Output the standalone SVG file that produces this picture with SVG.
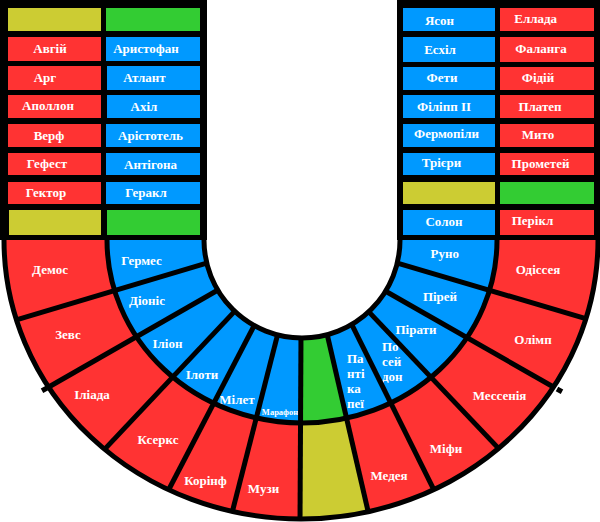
<svg xmlns="http://www.w3.org/2000/svg" width="600" height="522" viewBox="0 0 600 522">
<style>
.r{fill:#ff3333}.b{fill:#0099ff}.g{fill:#33cc33}.y{fill:#cccc33}
text{font-family:"Liberation Serif","Times New Roman",serif;font-weight:bold;font-size:13px;fill:#ffffff;text-anchor:middle}
text.s{font-size:8.5px}
text.l{text-anchor:start}
.ln{stroke:#000000;stroke-width:5;fill:none}
.oc{clip-path:url(#outerRing)}
.ic{clip-path:url(#innerRing)}
</style>
<defs>
<clipPath id="outerRing"><path clip-rule="evenodd" d="M4 240A297 279 0 0 0 598 240ZM107 240A195 183 0 0 0 497 240Z"/></clipPath>
<clipPath id="innerRing"><path clip-rule="evenodd" d="M107 240A195 183 0 0 0 497 240ZM204 240A98 98 0 0 0 400 240Z"/></clipPath>
<clipPath id="ringAll"><path clip-rule="evenodd" d="M4 240A297 279 0 0 0 598 240ZM204 240A98 98 0 0 0 400 240Z"/></clipPath>
</defs>
<rect x="0" y="0" width="600" height="522" fill="#ffffff"/>
<rect x="0" y="0" width="207" height="240" fill="#000000"/>
<rect x="397" y="0" width="203" height="240" fill="#000000"/>

<g id="left-blocks">
<g id="l-empty-y1"><rect class="y" x="8" y="8" width="93" height="23"/></g>
<g id="l-empty-g1"><rect class="g" x="106" y="8" width="94" height="23"/></g>
<g id="avhii"><rect class="r" x="8" y="37" width="93" height="24"/><text x="50" y="53">Авгій</text></g>
<g id="arystofan"><rect class="b" x="106" y="37" width="94" height="24"/><text x="146" y="53">Аристофан</text></g>
<g id="arh"><rect class="r" x="8" y="66" width="93" height="24"/><text x="45" y="82">Арг</text></g>
<g id="atlant"><rect class="b" x="107" y="66" width="93" height="24"/><text x="144.5" y="82">Атлант</text></g>
<g id="apollon"><rect class="r" x="8" y="95" width="93" height="23"/><text x="48" y="110">Аполлон</text></g>
<g id="akhil"><rect class="b" x="107" y="95" width="93" height="23"/><text x="144" y="111">Ахіл</text></g>
<g id="verf"><rect class="r" x="8" y="124" width="93" height="23"/><text x="49" y="140">Верф</text></g>
<g id="aristotel"><rect class="b" x="106" y="124" width="94" height="23"/><text x="150.5" y="140">Арістотель</text></g>
<g id="hefest"><rect class="r" x="8" y="153" width="93" height="22"/><text x="47" y="168">Гефест</text></g>
<g id="antihona"><rect class="b" x="106" y="153" width="94" height="22"/><text x="150.5" y="169">Антігона</text></g>
<g id="hektor"><rect class="r" x="8" y="182" width="93" height="22"/><text x="46" y="197">Гектор</text></g>
<g id="herakl"><rect class="b" x="106" y="182" width="94" height="22"/><text x="146" y="197">Геракл</text></g>
<g id="l-empty-y2"><rect class="y" x="9" y="210" width="92" height="25"/></g>
<g id="l-empty-g2"><rect class="g" x="107" y="210" width="93" height="25"/></g>
</g>

<g id="right-blocks">
<g id="yason"><rect class="b" x="403" y="8" width="92" height="23"/><text x="439.5" y="25">Ясон</text></g>
<g id="ellada"><rect class="r" x="500" y="8" width="94" height="23"/><text x="535.7" y="23">Еллада</text></g>
<g id="eskhil"><rect class="b" x="403" y="37" width="92" height="25"/><text x="440" y="54">Есхіл</text></g>
<g id="falanha"><rect class="r" x="500" y="37" width="94" height="25"/><text x="541" y="53">Фаланга</text></g>
<g id="fety"><rect class="b" x="403" y="67" width="92" height="23"/><text x="442" y="82">Фети</text></g>
<g id="fidii"><rect class="r" x="500" y="67" width="94" height="23"/><text x="538" y="82">Фідій</text></g>
<g id="filipp"><rect class="b" x="403" y="95" width="92" height="23"/><text x="444" y="111">Філіпп ІІ</text></g>
<g id="platep"><rect class="r" x="500" y="95" width="94" height="23"/><text x="540" y="111">Платеп</text></g>
<g id="fermopily"><rect class="b" x="403" y="124" width="92" height="23"/><text x="446.5" y="138">Фермопіли</text></g>
<g id="myto"><rect class="r" x="500" y="124" width="94" height="23"/><text x="538" y="139">Мито</text></g>
<g id="triiery"><rect class="b" x="403" y="153" width="92" height="22"/><text x="441.5" y="167">Трієри</text></g>
<g id="prometei"><rect class="r" x="500" y="153" width="94" height="22"/><text x="540.5" y="168">Прометей</text></g>
<g id="r-empty-y"><rect class="y" x="403" y="182" width="92" height="22"/></g>
<g id="r-empty-g"><rect class="g" x="500" y="182" width="94" height="22"/></g>
<g id="solon"><rect class="b" x="403" y="210" width="92" height="25"/><text x="444" y="226">Солон</text></g>
<g id="perikl"><rect class="r" x="500" y="210" width="94" height="25"/><text x="532.5" y="225">Перікл</text></g>
</g>

<g id="outer-ring">
<g id="demos"><polygon class="r oc" points="215,240 -15,240 -12.7,328.6 226.1,257.3"/><text x="50" y="274">Демос</text></g>
<g id="zevs"><polygon class="r oc" points="226.1,257.3 -12.7,328.6 21.4,402.7 235.1,280.2"/><text x="68" y="339">Зевс</text></g>
<g id="iliada"><polygon class="r oc" points="235.1,280.2 21.4,402.7 83.4,471.9 247.1,298.1"/><text x="92" y="399">Іліада</text></g>
<g id="kserks"><polygon class="r oc" points="247.1,298.1 83.4,471.9 155.1,515.8 262.6,309.5"/><text x="158" y="444">Ксеркс</text></g>
<g id="korinf"><polygon class="r oc" points="262.6,309.5 155.1,515.8 225.3,539.4 281.5,319.4"/><text x="205.5" y="485">Корінф</text></g>
<g id="muzy"><polygon class="r oc" points="281.5,319.4 225.3,539.4 300,546 301,320"/><text x="263.5" y="493">Музи</text></g>
<g id="o-empty-y"><polygon class="y oc" points="301,320 300,546 374,538.1 324,320.6"/></g>
<g id="medeia"><polygon class="r oc" points="324,320.6 374,538.1 445.2,512.5 343.9,308.7"/><text x="389" y="480">Медея</text></g>
<g id="mify"><polygon class="r oc" points="343.9,308.7 445.2,512.5 519.5,470.6 357,299.3"/><text x="446" y="453">Міфи</text></g>
<g id="messeniia"><polygon class="r oc" points="357,299.3 519.5,470.6 582.5,403.6 370,282.3"/><text x="499.5" y="400">Мессенія</text></g>
<g id="olimp"><polygon class="r oc" points="370,282.3 582.5,403.6 615.5,327.4 378,257.4"/><text x="533" y="344">Олімп</text></g>
<g id="odisseia"><polygon class="r oc" points="378,257.4 615.5,327.4 615,240 390,240"/><text x="538" y="274">Одіссея</text></g>
</g>

<g id="inner-ring">
<g id="hermes"><polygon class="b ic" points="215,240 -15,240 -12.7,328.6 226.1,257.3"/><text x="141.5" y="265">Гермес</text></g>
<g id="dionis"><polygon class="b ic" points="226.1,257.3 -12.7,328.6 21.4,402.7 235.1,280.2"/><text x="147" y="305">Діоніс</text></g>
<g id="ilion"><polygon class="b ic" points="235.1,280.2 21.4,402.7 83.4,471.9 247.1,298.1"/><text x="167.5" y="348">Іліон</text></g>
<g id="iloty"><polygon class="b ic" points="247.1,298.1 83.4,471.9 155.1,515.8 262.6,309.5"/><text x="202" y="379">Ілоти</text></g>
<g id="milet"><polygon class="b ic" points="262.6,309.5 155.1,515.8 225.3,539.4 281.5,319.4"/><text x="237" y="404">Мілет</text></g>
<g id="marafon"><polygon class="b ic" points="281.5,319.4 225.3,539.4 300,546 301,320"/><text class="s" x="280" y="415">Марафон</text></g>
<g id="i-empty-g"><polygon class="g ic" points="301,320 300,546 374,538.1 324,320.6"/></g>
<g id="pantikapei"><polygon class="b ic" points="324,320.6 374,538.1 445.2,512.5 343.9,308.7"/><text class="l" x="347" y="363">Па</text><text class="l" x="347" y="378">нті</text><text class="l" x="347" y="393">ка</text><text class="l" x="347" y="408">пеї</text></g>
<g id="poseidon"><polygon class="b ic" points="343.9,308.7 445.2,512.5 519.5,470.6 357,299.3"/><text class="l" x="382" y="351">По</text><text class="l" x="382" y="366">сей</text><text class="l" x="382" y="381">дон</text></g>
<g id="piraty"><polygon class="b ic" points="357,299.3 519.5,470.6 582.5,403.6 370,282.3"/><text x="416" y="334">Пірати</text></g>
<g id="pirei"><polygon class="b ic" points="370,282.3 582.5,403.6 615.5,327.4 378,257.4"/><text x="440" y="301">Пірей</text></g>
<g id="runo"><polygon class="b ic" points="378,257.4 615.5,327.4 615,240 390,240"/><text x="444.7" y="258">Руно</text></g>
</g>

<g id="dividers">
<g clip-path="url(#ringAll)">
<line class="ln" x1="210.8" y1="261.9" x2="12.2" y2="321.1"/>
<line class="ln" x1="221.5" y1="288" x2="43.5" y2="390"/>
<line class="ln" x1="236.7" y1="309.1" x2="100.3" y2="453.9"/>
<line class="ln" x1="255.8" y1="322.5" x2="166.2" y2="494.5"/>
<line class="ln" x1="278" y1="333.1" x2="231" y2="516.9"/>
<line class="ln" x1="301" y1="334" x2="300" y2="522"/>
<line class="ln" x1="327.1" y1="334.1" x2="368.9" y2="514.9"/>
<line class="ln" x1="350.2" y1="321.4" x2="434.8" y2="491.6"/>
<line class="ln" x1="367.2" y1="310.1" x2="502.8" y2="452.9"/>
<line class="ln" x1="383.5" y1="290" x2="560.5" y2="391"/>
<line class="ln" x1="393.2" y1="261.9" x2="590.8" y2="320.1"/>
</g>
<path class="ln" d="M4 240A297 279 0 0 0 598 240"/>
<path class="ln" d="M107 240A195 183 0 0 0 497 240"/>
<path class="ln" d="M204 240A98 98 0 0 0 400 240"/>
<line class="ln" x1="47" y1="388" x2="42" y2="390.8"/>
<line class="ln" x1="557" y1="389" x2="562" y2="391.8"/>
</g>
</svg>
